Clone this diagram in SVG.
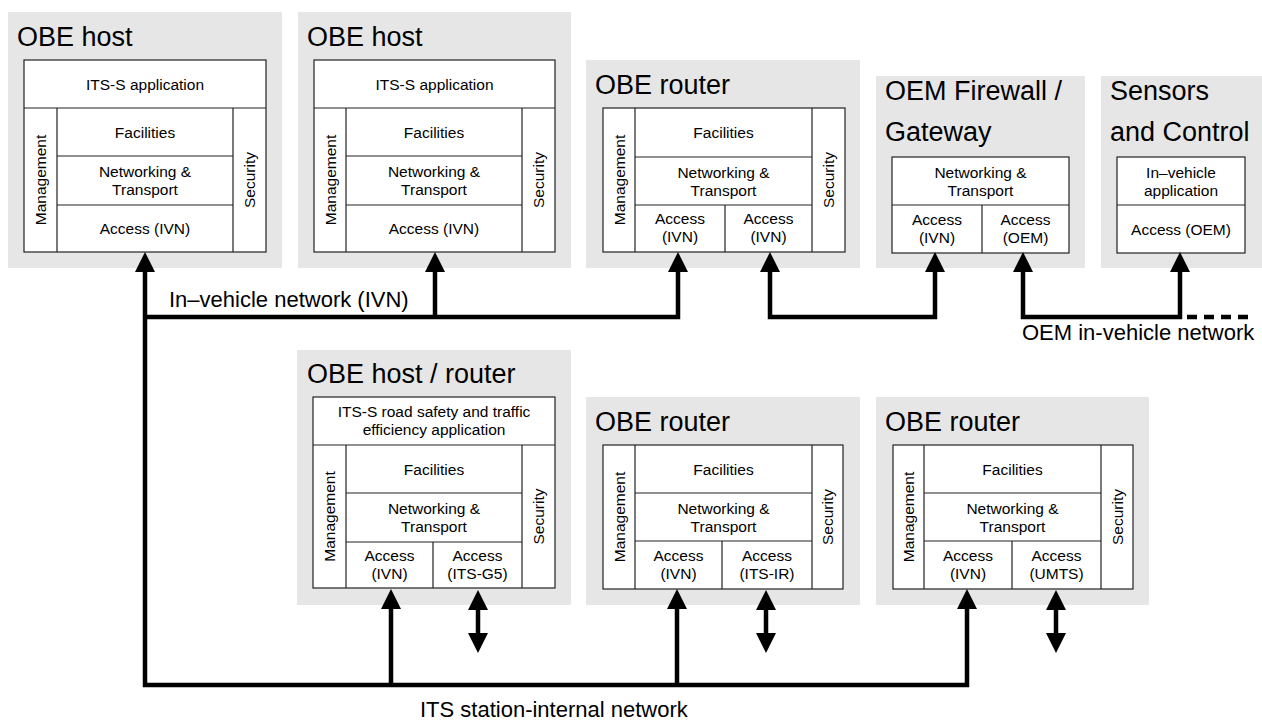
<svg xmlns="http://www.w3.org/2000/svg" width="1262" height="720" viewBox="0 0 1262 720">
<defs>
<marker id="ah" viewBox="0 0 20 20" markerWidth="20" markerHeight="20" refX="0" refY="10" orient="auto-start-reverse" markerUnits="userSpaceOnUse"><path d="M0,0 L20,10 L0,20 z" fill="#000"/></marker>
<style>
.bg{fill:#e6e6e6;stroke:none}
.box{fill:#fff;stroke:#222;stroke-width:1.2}
.ln{fill:none;stroke:#222;stroke-width:1.2}
text{font-family:"Liberation Sans",Arial,sans-serif;fill:#000}
.t{font-size:27px}
.s{font-size:15.5px;text-anchor:middle}
.lbl{font-size:22px}
.c{fill:none;stroke:#000;stroke-width:4.5;stroke-linejoin:miter}
.a{marker-end:url(#ah)}
.b{marker-start:url(#ah);marker-end:url(#ah)}
</style>
</defs>
<rect width="1262" height="720" fill="#fff"/>

<g id="obe-host-1">
<rect class="bg" x="8" y="12" width="274" height="256"/>
<text class="t" x="17" y="46">OBE host</text>
<rect class="box" x="24" y="60" width="242" height="192"/>
<path class="ln" d="M24 108H266M57 108V252M233 108V252M57 156H233M57 205H233"/>
<text class="s" x="145" y="89.5">ITS-S application</text>
<text class="s" x="145" y="137.5">Facilities</text>
<text class="s" x="145" y="177">Networking &amp;</text>
<text class="s" x="145" y="195">Transport</text>
<text class="s" x="145" y="234">Access (IVN)</text>
<text class="s" transform="translate(46,180) rotate(-90)">Management</text>
<text class="s" transform="translate(255,180) rotate(-90)">Security</text>
</g>

<g id="obe-host-2">
<rect class="bg" x="298" y="12" width="273" height="256"/>
<text class="t" x="307" y="46">OBE host</text>
<rect class="box" x="314" y="60" width="241" height="192"/>
<path class="ln" d="M314 108H555M346 108V252M522 108V252M346 156H522M346 205H522"/>
<text class="s" x="434.5" y="89.5">ITS-S application</text>
<text class="s" x="434" y="137.5">Facilities</text>
<text class="s" x="434" y="177">Networking &amp;</text>
<text class="s" x="434" y="195">Transport</text>
<text class="s" x="434" y="234">Access (IVN)</text>
<text class="s" transform="translate(335.5,180) rotate(-90)">Management</text>
<text class="s" transform="translate(544,180) rotate(-90)">Security</text>
</g>

<g id="obe-router-top">
<rect class="bg" x="586" y="60" width="274" height="208"/>
<text class="t" x="595" y="94">OBE router</text>
<rect class="box" x="603" y="108" width="242" height="144"/>
<path class="ln" d="M635 108V252M812 108V252M635 157H812M635 205H812M725 205V252"/>
<text class="s" x="723.5" y="138">Facilities</text>
<text class="s" x="723.5" y="177.5">Networking &amp;</text>
<text class="s" x="723.5" y="195.5">Transport</text>
<text class="s" x="680" y="224">Access</text>
<text class="s" x="680" y="242">(IVN)</text>
<text class="s" x="768.5" y="224">Access</text>
<text class="s" x="768.5" y="242">(IVN)</text>
<text class="s" transform="translate(624.5,180) rotate(-90)">Management</text>
<text class="s" transform="translate(834,180) rotate(-90)">Security</text>
</g>

<g id="oem-firewall">
<rect class="bg" x="876" y="76" width="209" height="192"/>
<text class="t" x="885" y="100">OEM Firewall /</text>
<text class="t" x="885" y="141">Gateway</text>
<rect class="box" x="892" y="157" width="177" height="96"/>
<path class="ln" d="M892 205H1069M982 205V253"/>
<text class="s" x="980.5" y="177.5">Networking &amp;</text>
<text class="s" x="980.5" y="195.5">Transport</text>
<text class="s" x="937" y="224.5">Access</text>
<text class="s" x="937" y="242.5">(IVN)</text>
<text class="s" x="1025.5" y="224.5">Access</text>
<text class="s" x="1025.5" y="242.5">(OEM)</text>
</g>

<g id="sensors">
<rect class="bg" x="1101" y="76" width="161" height="192"/>
<text class="t" x="1110" y="100">Sensors</text>
<text class="t" x="1110" y="141">and Control</text>
<rect class="box" x="1117" y="157" width="128" height="96"/>
<path class="ln" d="M1117 205H1245"/>
<text class="s" x="1181" y="177.5">In–vehicle</text>
<text class="s" x="1181" y="195.5">application</text>
<text class="s" x="1181" y="234.5">Access (OEM)</text>
</g>

<g id="obe-host-router">
<rect class="bg" x="297" y="350" width="274" height="255"/>
<text class="t" x="307" y="383">OBE host / router</text>
<rect class="box" x="313" y="397" width="242" height="191"/>
<path class="ln" d="M313 445H555M346 445V588M522 445V588M346 493H522M346 542H522M433 542V588"/>
<text class="s" x="434" y="417">ITS-S road safety and traffic</text>
<text class="s" x="434" y="435">efficiency application</text>
<text class="s" x="434" y="474.5">Facilities</text>
<text class="s" x="434" y="514">Networking &amp;</text>
<text class="s" x="434" y="532">Transport</text>
<text class="s" x="389.5" y="560.5">Access</text>
<text class="s" x="389.5" y="578.5">(IVN)</text>
<text class="s" x="477.5" y="560.5">Access</text>
<text class="s" x="477.5" y="578.5">(ITS-G5)</text>
<text class="s" transform="translate(335,516.5) rotate(-90)">Management</text>
<text class="s" transform="translate(544,516.5) rotate(-90)">Security</text>
</g>

<g id="obe-router-mid">
<rect class="bg" x="586" y="397" width="274" height="208"/>
<text class="t" x="595" y="431">OBE router</text>
<rect class="box" x="603" y="445" width="240" height="144"/>
<path class="ln" d="M635 445V589M812 445V589M635 493H812M635 541H812M722 541V589"/>
<text class="s" x="723.5" y="474.5">Facilities</text>
<text class="s" x="723.5" y="513.5">Networking &amp;</text>
<text class="s" x="723.5" y="531.5">Transport</text>
<text class="s" x="678.5" y="560.5">Access</text>
<text class="s" x="678.5" y="578.5">(IVN)</text>
<text class="s" x="767" y="560.5">Access</text>
<text class="s" x="767" y="578.5">(ITS-IR)</text>
<text class="s" transform="translate(624.5,517) rotate(-90)">Management</text>
<text class="s" transform="translate(833,517) rotate(-90)">Security</text>
</g>

<g id="obe-router-right">
<rect class="bg" x="876" y="397" width="273" height="208"/>
<text class="t" x="885" y="431">OBE router</text>
<rect class="box" x="893" y="445" width="240" height="144"/>
<path class="ln" d="M924 445V589M1101 445V589M924 493H1101M924 541H1101M1012 541V589"/>
<text class="s" x="1012.5" y="474.5">Facilities</text>
<text class="s" x="1012.5" y="513.5">Networking &amp;</text>
<text class="s" x="1012.5" y="531.5">Transport</text>
<text class="s" x="968" y="560.5">Access</text>
<text class="s" x="968" y="578.5">(IVN)</text>
<text class="s" x="1056.5" y="560.5">Access</text>
<text class="s" x="1056.5" y="578.5">(UMTS)</text>
<text class="s" transform="translate(914,517) rotate(-90)">Management</text>
<text class="s" transform="translate(1122.5,517) rotate(-90)">Security</text>
</g>

<g id="connectors">
<path class="c b" d="M145 272V685H967V609"/>
<path class="c a" d="M145 317H678V272"/>
<path class="c a" d="M435 317V272"/>
<path class="c b" d="M770 272V317H935V272"/>
<path class="c b" d="M1023 272V317H1180V272"/>
<path class="c" d="M1187 317H1248" stroke-dasharray="10 7"/>
<path class="c a" d="M391 685V609"/>
<path class="c a" d="M677 685V609"/>
<path class="c b" d="M478 610V633"/>
<path class="c b" d="M766 610V633"/>
<path class="c b" d="M1056 610V633"/>
</g>

<g id="labels">
<text class="lbl" x="169" y="307">In–vehicle network (IVN)</text>
<text class="lbl" x="1022" y="340">OEM in-vehicle network</text>
<text class="lbl" x="420" y="717">ITS station-internal network</text>
</g>
</svg>
